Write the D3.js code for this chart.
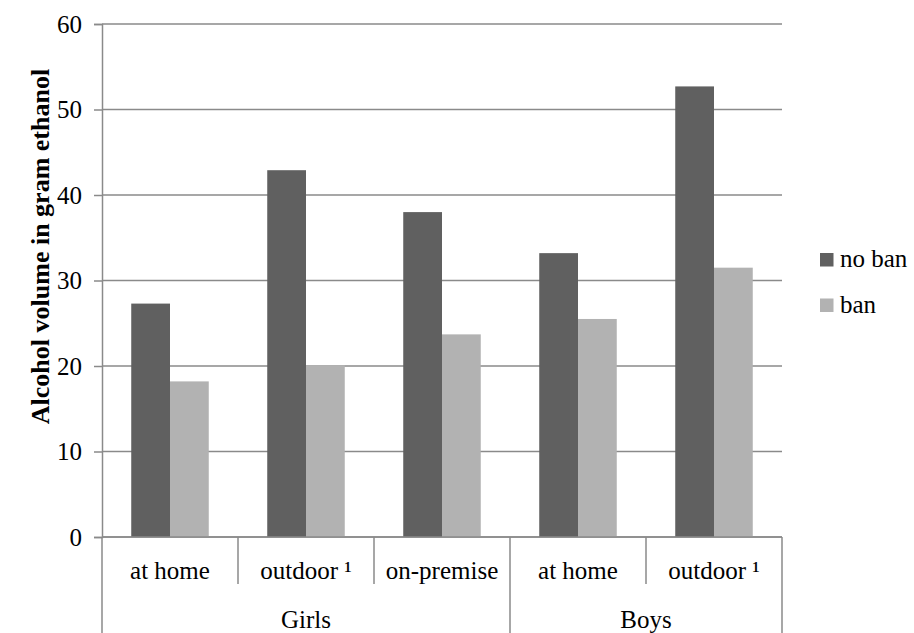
<!DOCTYPE html>
<html>
<head>
<meta charset="utf-8">
<script src="https://cdn.jsdelivr.net/npm/d3@7"></script>
<style>
  body { margin: 0; background: #fff; }
</style>
</head>
<body>
<svg id="chart"></svg>
<script>
// data
const groups = ["Girls", "Girls", "Girls", "Boys", "Boys"];
const categories = ["at home", "outdoor \u00b9", "on-premise", "at home", "outdoor \u00b9"];
const seriesNames = ["no ban", "ban"];
const noBan = [27.3, 42.9, 38.0, 33.2, 52.7];
const ban = [18.2, 20.1, 23.7, 25.5, 31.5];
const yTicks = [0, 10, 20, 30, 40, 50, 60];

const colors = { "no ban": "#606060", "ban": "#b2b2b2" };
const FONT = "'Times New Roman', 'Liberation Serif', Tinos, 'DejaVu Serif', serif";
const FS = 25;

const W = 914, H = 633;
const margin = { top: 24, right: 132, bottom: 96, left: 102 };
const width = W - margin.left - margin.right;
const height = H - margin.top - margin.bottom;

const svg = d3.select("#chart").attr("width", W).attr("height", H)
  .style("font-family", FONT);
const g = svg.append("g").attr("transform", `translate(${margin.left},${margin.top})`);

const idx = categories.map((c, i) => i);
const x0 = d3.scaleBand().domain(idx).range([0, width]).padding(0);
const x1 = d3.scaleBand().domain(seriesNames)
  .range([x0.bandwidth() * 0.215, x0.bandwidth() * 0.785]).padding(0);
const y = d3.scaleLinear().domain([0, 60]).range([height, 0]);

// gridlines
g.append("g")
  .selectAll("line")
  .data(yTicks)
  .join("line")
    .attr("x1", 0).attr("x2", width)
    .attr("y1", d => y(d)).attr("y2", d => y(d))
    .attr("stroke", "#8a8a8a").attr("stroke-width", 1.5);

// y axis
const yAxis = g.append("g")
  .call(d3.axisLeft(y).tickValues(yTicks).tickSize(8).tickPadding(12))
  .attr("font-family", FONT);
yAxis.select(".domain").attr("stroke", "#8a8a8a").attr("stroke-width", 1.5);
yAxis.selectAll(".tick line").attr("stroke", "#8a8a8a").attr("stroke-width", 1.5);
yAxis.selectAll(".tick text")
  .attr("font-size", FS).style("font-family", FONT).attr("fill", "#000");

// bars
const rows = idx.map(i => ({ i, values: [noBan[i], ban[i]] }));
g.append("g")
  .selectAll("g")
  .data(rows)
  .join("g")
    .attr("transform", d => `translate(${x0(d.i)},0)`)
  .selectAll("rect")
  .data(d => seriesNames.map((s, k) => ({ s, v: d.values[k] })))
  .join("rect")
    .attr("x", d => x1(d.s))
    .attr("y", d => y(d.v))
    .attr("width", x1.bandwidth())
    .attr("height", d => height - y(d.v))
    .attr("fill", d => colors[d.s]);

// category axis
const axisColor = "#8a8a8a";
g.append("line")
  .attr("x1", 0).attr("x2", width)
  .attr("y1", height).attr("y2", height)
  .attr("stroke", axisColor).attr("stroke-width", 1.5);

// separators between categories
const bounds = d3.range(categories.length + 1).map(i => i * x0.step());
const groupBounds = bounds.filter((b, i) =>
  i === 0 || i === categories.length || groups[i] !== groups[i - 1]);
g.append("g")
  .selectAll("line")
  .data(bounds)
  .join("line")
    .attr("x1", d => d).attr("x2", d => d)
    .attr("y1", height)
    .attr("y2", d => groupBounds.includes(d) ? H - margin.top : height + 47)
    .attr("stroke", axisColor).attr("stroke-width", 1.5);

g.append("g")
  .selectAll("text")
  .data(idx)
  .join("text")
    .attr("x", i => x0(i) + x0.bandwidth() / 2)
    .attr("y", height + 42)
    .attr("text-anchor", "middle")
    .attr("font-size", FS)
    .style("font-family", FONT)
    .text(i => categories[i]);

const groupNames = Array.from(new Set(groups));
g.append("g")
  .selectAll("text")
  .data(groupNames)
  .join("text")
    .attr("x", n => {
      const members = idx.filter(i => groups[i] === n);
      return (x0(members[0]) + x0(members[members.length - 1]) + x0.bandwidth()) / 2;
    })
    .attr("y", height + 91)
    .attr("text-anchor", "middle")
    .attr("font-size", FS)
    .style("font-family", FONT)
    .text(n => n);

// y title
svg.append("text")
  .attr("transform", `translate(49,${margin.top + height / 2 - 34}) rotate(-90)`)
  .attr("text-anchor", "middle")
  .attr("font-size", 26)
  .attr("font-weight", "bold")
  .style("font-family", FONT)
  .text("Alcohol volume in gram ethanol");

// legend
const legend = svg.append("g").attr("transform", "translate(820,253)");
const li = legend.selectAll("g")
  .data(seriesNames)
  .join("g")
    .attr("transform", (d, i) => `translate(0,${i * 45.5})`);
li.append("rect").attr("width", 13.5).attr("height", 13.5).attr("fill", d => colors[d]);
li.append("text").attr("x", 20).attr("y", 14).attr("font-size", FS)
  .style("font-family", FONT).text(d => d);
</script>
</body>
</html>
